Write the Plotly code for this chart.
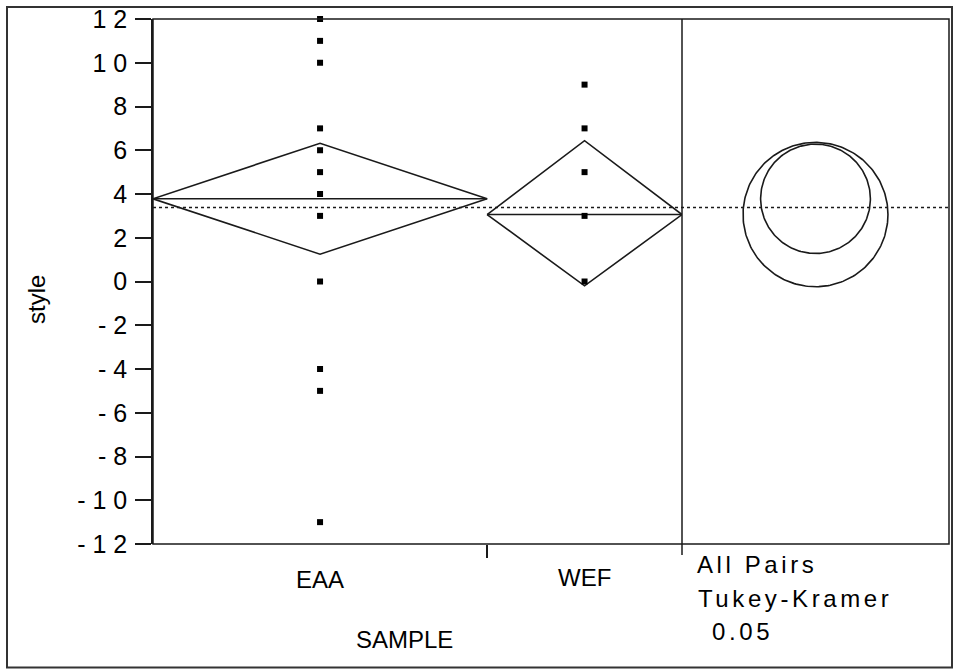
import numpy as np
import plotly.graph_objects as go

# ---------------- data ----------------
groups = ["EAA", "WEF"]
group_n = [12, 7]                       # sample sizes -> diamond widths
eaa_values = [12, 11, 10, 7, 6, 5, 4, 3, 0, -4, -5, -11]
wef_values = [9, 7, 5, 3, 0]
group_means = [3.78, 3.06]
ci_lower = [1.25, -0.20]
ci_upper = [6.32, 6.44]
grand_mean = 3.38
circle_radius = [2.50, 3.30]            # Tukey-Kramer comparison circles (style units)
y_tickvals = [12, 10, 8, 6, 4, 2, 0, -2, -4, -6, -8, -10, -12]
y_ticktext = ["1 2", "1 0", "8", "6", "4", "2", "0", "- 2", "- 4", "- 6", "- 8", "- 1 0", "- 1 2"]

# ---------------- layout geometry ----------------
W, H = 954, 671
ML, MR, MT, MB = 153, 5, 17, 127
plot_w = W - ML - MR
plot_h = H - MT - MB
left_panel_px = 529
split = left_panel_px / plot_w
y_range = [-12, 12]
px_per_y = plot_h / (y_range[1] - y_range[0])
x2_span = (plot_w - left_panel_px) / px_per_y  # x2 units equal y units in pixels

FONT = "Liberation Sans, Arial, sans-serif"
INK = "#1a1a1a"

fig = go.Figure()

# group x positions from cumulative sample sizes
edges = np.concatenate([[0], np.cumsum(group_n)])
centers = (edges[:-1] + edges[1:]) / 2
values_by_group = [eaa_values, wef_values]

for i, g in enumerate(groups):
    x0, x1, xc = edges[i], edges[i + 1], centers[i]
    m, lo, hi = group_means[i], ci_lower[i], ci_upper[i]
    # means diamond
    fig.add_trace(go.Scatter(
        x=[x0, xc, x1, xc, x0], y=[m, hi, m, lo, m],
        mode="lines", line=dict(color=INK, width=1.6),
        hoverinfo="skip", showlegend=False, xaxis="x", yaxis="y"))
    # mean line
    fig.add_trace(go.Scatter(
        x=[x0, x1], y=[m, m], mode="lines",
        line=dict(color=INK, width=1.6),
        hoverinfo="skip", showlegend=False, xaxis="x", yaxis="y"))
    # observations
    vals = values_by_group[i]
    fig.add_trace(go.Scatter(
        x=[xc] * len(vals), y=vals, mode="markers",
        marker=dict(symbol="square", size=6, color="black"),
        cliponaxis=False, showlegend=False, name=g,
        xaxis="x", yaxis="y"))

# comparison circles
theta = np.linspace(0, 2 * np.pi, 240)
cx = x2_span / 2
for i in range(len(groups)):
    r = circle_radius[i]
    fig.add_trace(go.Scatter(
        x=cx + r * np.cos(theta), y=group_means[i] + r * np.sin(theta),
        mode="lines", line=dict(color=INK, width=1.6),
        hoverinfo="skip", showlegend=False, xaxis="x2", yaxis="y"))

shapes = [
    # plot frame
    dict(type="rect", xref="paper", yref="paper", x0=0, x1=1, y0=0, y1=1,
         line=dict(color=INK, width=1.5)),
    # divider between groups and circles panel (extends below axis)
    dict(type="line", xref="paper", yref="paper", x0=split, x1=split,
         y0=-11 / plot_h, y1=1, line=dict(color=INK, width=1.5)),
    # grand mean
    dict(type="line", xref="paper", yref="y", x0=0, x1=1,
         y0=grand_mean, y1=grand_mean,
         line=dict(color=INK, width=1.5, dash="dot")),
    # outer picture border
    dict(type="rect", xref="paper", yref="paper",
         x0=(7 - ML) / plot_w, x1=(952 - ML) / plot_w,
         y0=(MT + plot_h - 668) / plot_h, y1=(MT + plot_h - 5) / plot_h,
         line=dict(color="#333333", width=2)),
]

def ypaper(py):
    return (MT + plot_h - py) / plot_h

def xpaper(px):
    return (px - ML) / plot_w

annotations = []
label_y = [580, 578]
for i, g in enumerate(groups):
    annotations.append(dict(x=centers[i], xref="x", y=ypaper(label_y[i]), yref="paper",
                            text=g, showarrow=False, xanchor="center", yanchor="middle",
                            font=dict(family=FONT, size=24, color="black")))
annotations += [
    dict(x=xpaper(404), y=ypaper(640), xref="paper", yref="paper", text="SAMPLE",
         showarrow=False, xanchor="center", yanchor="middle",
         font=dict(family=FONT, size=24, color="black")),
    dict(x=xpaper(37), y=ypaper(299), xref="paper", yref="paper", text="style",
         textangle=-90, showarrow=False, xanchor="center", yanchor="middle",
         font=dict(family=FONT, size=24, color="black")),
    dict(x=xpaper(695), y=ypaper(565), xref="paper", yref="paper", text="All Pairs",
         showarrow=False, xanchor="left", yanchor="middle", align="left",
         font=dict(family=FONT, size=24, color="black")),
    dict(x=xpaper(696), y=ypaper(599), xref="paper", yref="paper", text="Tukey-Kramer",
         showarrow=False, xanchor="left", yanchor="middle", align="left",
         font=dict(family=FONT, size=24, color="black")),
    dict(x=xpaper(710), y=ypaper(632), xref="paper", yref="paper", text="0.05",
         showarrow=False, xanchor="left", yanchor="middle", align="left",
         font=dict(family=FONT, size=24, color="black")),
]

fig.update_layout(
    width=W, height=H,
    margin=dict(l=ML, r=MR, t=MT, b=MB, pad=0),
    paper_bgcolor="white", plot_bgcolor="white",
    showlegend=False,
    xaxis=dict(domain=[0, split], range=[edges[0], edges[-1]],
               tickvals=[edges[1]], ticks="outside", ticklen=13, tickwidth=1.5,
               tickcolor=INK, showticklabels=False, showgrid=False, zeroline=False,
               showline=False, fixedrange=True),
    xaxis2=dict(domain=[split, 1], range=[0, x2_span], anchor="y", visible=False,
                fixedrange=True),
    yaxis=dict(range=y_range, tickvals=y_tickvals, ticktext=y_ticktext,
               ticks="outside", ticklen=16, tickwidth=1.5, tickcolor=INK,
               showgrid=False, zeroline=False, showline=True, linecolor=INK, linewidth=1.5,
               ticklabelstandoff=3,
               tickfont=dict(family=FONT, size=25, color="black"), fixedrange=True),
    shapes=shapes,
    annotations=annotations,
)

post = """
var gd = document.getElementById('{plot_id}');
function spaceText(){
  gd.querySelectorAll('.annotation-text').forEach(function(t){
    var s = t.textContent;
    if (/Pairs|Tukey|0\\.05/.test(s)) { t.setAttribute('letter-spacing', '3.6px'); }
  });
}
spaceText();
gd.on('plotly_afterplot', spaceText);
"""

fig.write_html("out.html", post_script=post)
